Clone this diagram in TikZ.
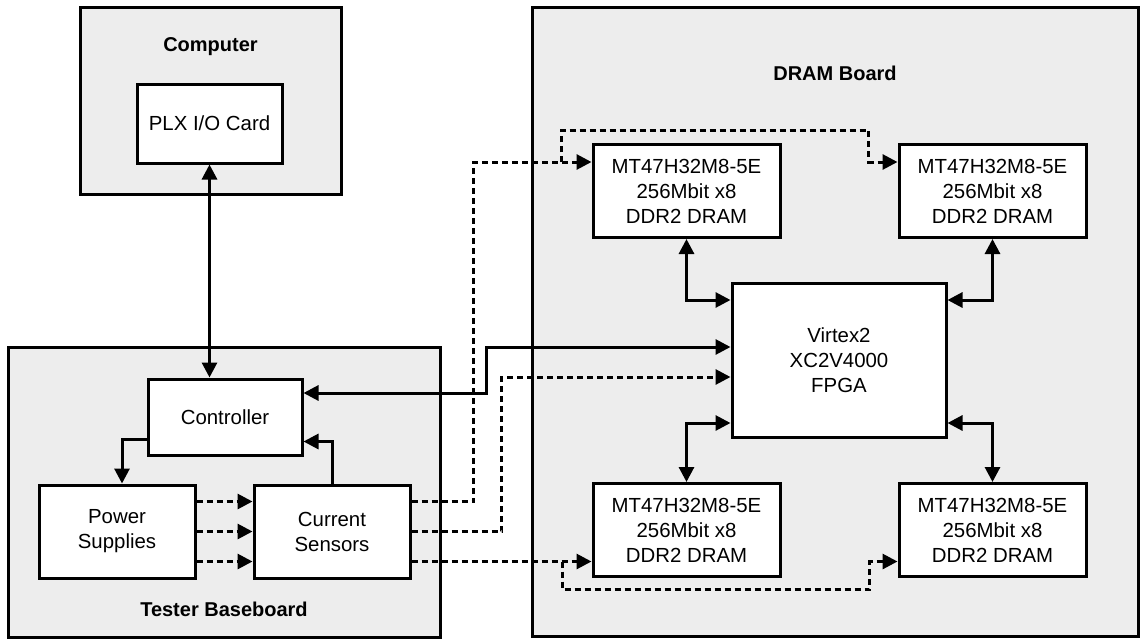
\documentclass[tikz,border=0pt]{standalone}
\usepackage{fontspec}
\setmainfont{Liberation Sans}
\usetikzlibrary{positioning, arrows.meta}

\begin{document}
\begin{tikzpicture}[
        x=0.5pt, y=-0.5pt,
        >={Triangle[length=7.5pt, width=7.5pt]},
        node distance=100pt,
        on grid,
        board/.style={draw, line width=1.5pt, fill=black!7},
        block/.style={draw, line width=1.5pt, fill=white, align=center,
            font=\fontsize{10.2}{12.5}\selectfont},
        chip/.style={block, minimum width=93.5pt, minimum height=46.5pt},
        title/.style={font=\bfseries\fontsize{10}{12}\selectfont},
        bus/.style={line width=1.5pt},
        sig/.style={line width=1.5pt, dash pattern=on 3pt off 2pt}
    ]
        \useasboundingbox (0,0) rectangle (1141,638);
        % boards
        \node[board, minimum width=130.5pt, minimum height=93.5pt] (computer) at (210.5,100.5) {};
        \node[board, minimum width=216pt, minimum height=145pt] (tester) at (224,492) {};
        \node[board, minimum width=303pt, minimum height=314.5pt] (dramboard) at (835,321.5) {};
        \node[title] at ([yshift=-20.5pt]computer.north) {Computer};
        \node[title] at ([yshift=14.5pt]tester.south) {Tester Baseboard};
        \node[title] at ([yshift=-34pt]dramboard.north) {DRAM Board};
        % computer + tester
        \node[block, minimum width=72.5pt, minimum height=39.5pt] (plx) at (209.5,123.5) {PLX I/O Card};
        \node[block, minimum width=77pt, minimum height=38pt] (ctrl) at (225,417) {Controller};
        \node[block, minimum width=78pt, minimum height=46.5pt] (power) at (117,531.5) {Power\\Supplies};
        \node[block, minimum width=78pt, minimum height=46.5pt, right=107.5pt of power] (sensors) {Current\\Sensors};
        % dram board
        \node[chip] (dram1) at (686.5,191) {MT47H32M8-5E\\256Mbit x8\\DDR2 DRAM};
        \node[chip, right=153pt of dram1] (dram2) {MT47H32M8-5E\\256Mbit x8\\DDR2 DRAM};
        \node[chip, below=169.5pt of dram1] (dram3) {MT47H32M8-5E\\256Mbit x8\\DDR2 DRAM};
        \node[chip, right=153pt of dram3] (dram4) {MT47H32M8-5E\\256Mbit x8\\DDR2 DRAM};
        \node[block, minimum width=107pt, minimum height=77pt] (fpga) at (839,360) {Virtex2\\XC2V4000\\FPGA};

        % solid links
        \draw[bus, <->] (plx.south) -- (plx.south |- ctrl.north);
        \draw[bus, ->] ([yshift=8.5pt]ctrl.south west) -| ([xshift=2.5pt]power.north);
        \draw[bus, ->] (sensors.north) |- ([yshift=7.5pt]ctrl.south east);
        \draw[bus, <->] ([yshift=12pt]ctrl.east) -- ++(183,0) |- ([yshift=6.5pt]fpga.west);
        \draw[bus, <->] (dram1.south) |- ([yshift=30pt]fpga.west);
        \draw[bus, <->] (dram2.south) |- ([yshift=30pt]fpga.east);
        \draw[bus, <->] (dram3.north) |- ([yshift=-31.5pt]fpga.west);
        \draw[bus, <->] (dram4.north) |- ([yshift=-31.5pt]fpga.east);

        % sense lines
        \foreach \dy in {15pt, 0pt, -15pt}
            \draw[sig, ->] ([yshift=\dy]power.east) -- ([yshift=\dy]sensors.east -| sensors.west);
        \coordinate (s1) at ([yshift=15pt]sensors.east);
        \coordinate (s2) at (sensors.east);
        \coordinate (s3) at ([yshift=-15pt]sensors.east);
        \coordinate (d1) at ([yshift=14.5pt]dram1.west);
        \coordinate (d3) at (s3 -| dram3.west);
        \draw[sig, ->] (s1) -- ++(62,0) |- (d1);
        \draw[sig, ->] (d1) ++(-30,0) -- ++(0,-32) -| ++(307,32) -- (d1 -| dram2.west);
        \draw[sig, ->] (s2) -- ++(90,0) |- ([yshift=-8.5pt]fpga.west);
        \draw[sig, ->] (s3) -- (d3);
        \draw[sig, ->] (d3) ++(-29,0) -- ++(0,28) -| ++(307,-28) -- (d3 -| dram4.west);
\end{tikzpicture}
\end{document}
